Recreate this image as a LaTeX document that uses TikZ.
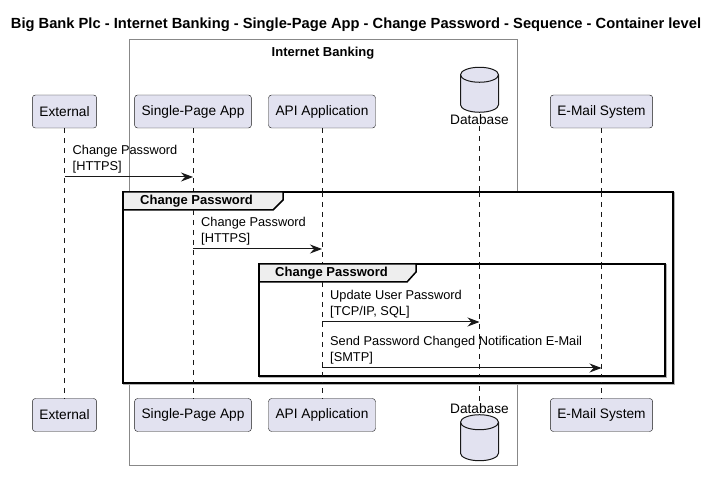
\documentclass[tikz,border=0pt]{standalone}
\usepackage{fontspec}
\setmainfont{Liberation Sans}
\usetikzlibrary{arrows.meta}

\definecolor{partfill}{HTML}{E2E2F0}
\definecolor{partline}{HTML}{181818}
\definecolor{tabfill}{HTML}{EEEEEE}
\definecolor{boundline}{HTML}{888888}

\begin{document}
\begin{tikzpicture}[x=1pt, y=-1pt,
  part/.style={draw=partline, fill=partfill, rounded corners=3pt, minimum height=33pt,
    inner xsep=7pt, font=\fontsize{13.7}{16}\selectfont},
  dbname/.style={inner sep=1pt, font=\fontsize{13.7}{16}\selectfont},
  life/.style={draw=partline, dash pattern=on 5pt off 5pt, line width=0.5pt},
  msg/.style={-{Stealth[length=12pt, width=9pt, inset=4pt]}, line width=1pt, draw=partline},
  msglabel/.style={anchor=south west, align=left, inner sep=0pt, font=\fontsize{12.8}{16}\selectfont},
  grp/.style={line width=1.5pt},
  grpshadow/.style={line width=1.5pt, draw=black!30},
  tab/.style={line width=1.5pt, fill=tabfill},
  tablabel/.style={anchor=west, inner sep=0pt, font=\bfseries\fontsize{13}{15}\selectfont}]

  \useasboundingbox (0,0) rectangle (716,478);

  % title
  \node[font=\bfseries\fontsize{14.7}{17}\selectfont] (title) at (356,25)
    {Big Bank Plc - Internet Banking - Single-Page App - Change Password - Sequence - Container level};

  % system boundary
  \draw[boundline, line width=1pt] (129,40) rectangle (517,466);
  \node[font=\bfseries\fontsize{13}{15}\selectfont] (ib) at (323,53) {Internet Banking};

  % participants, top row
  \node[part] (ext) at (64.5,111.5) {External};
  \node[part] (spa) at (193,111.5) {Single-Page App};
  \node[part] (api) at (322,111.5) {API Application};
  \node[part] (mail) at (601.5,111.5) {E-Mail System};
  \node[dbname] (db) at (479.5,120) {Database};

  % participants, bottom row
  \node[part] (ext2) at (64.5,415) {External};
  \node[part] (spa2) at (193,415) {Single-Page App};
  \node[part] (api2) at (322,415) {API Application};
  \node[part] (mail2) at (601.5,415) {E-Mail System};
  \node[dbname] (db2) at (479.5,409) {Database};

  % lifelines
  \draw[life] (ext) -- (ext2);
  \draw[life] (spa) -- (spa2);
  \draw[life] (api) -- (api2);
  \draw[life] (db) -- (db2);
  \draw[life] (mail) -- (mail2);

  % database cylinders
  \draw[draw=partline, fill=partfill, line width=1pt]
    ([xshift=-19pt, yshift=39pt]db.north) -- ([xshift=-19pt, yshift=9pt]db.north)
    arc[start angle=180, end angle=360, x radius=19pt, y radius=7.5pt]
    -- ([xshift=19pt, yshift=39pt]db.north)
    arc[start angle=0, end angle=180, x radius=19pt, y radius=7.5pt] -- cycle;
  \draw[draw=partline, line width=1pt]
    ([xshift=-19pt, yshift=39pt]db.north)
    arc[start angle=180, end angle=360, x radius=19pt, y radius=7.5pt];
  \draw[draw=partline, fill=partfill, line width=1pt]
    ([xshift=-19pt, yshift=-7pt]db2.south) -- ([xshift=-19pt, yshift=-38pt]db2.south)
    arc[start angle=180, end angle=360, x radius=19pt, y radius=7.5pt]
    -- ([xshift=19pt, yshift=-7pt]db2.south)
    arc[start angle=0, end angle=180, x radius=19pt, y radius=7.5pt] -- cycle;
  \draw[draw=partline, line width=1pt]
    ([xshift=-19pt, yshift=-7pt]db2.south)
    arc[start angle=180, end angle=360, x radius=19pt, y radius=7.5pt];

  % outer group
  \draw[grpshadow] (124.2,193.2) rectangle (674.2,384.2);
  \draw[grp, fill=white] (123,192) rectangle (673,383);
  \draw[tab] (123,192) -- (283,192) -- (283,200) -- (273,210) -- (123,210) -- cycle;
  \node[tablabel] (g1) at (140,201) {Change Password};
  \draw[life] (spa |- 0,210) -- (spa |- 0,383);
  \draw[life] (api |- 0,192) -- (api |- 0,383);
  \draw[life] (db |- 0,192) -- (db |- 0,383);
  \draw[life] (mail |- 0,192) -- (mail |- 0,383);

  % inner group
  \draw[grpshadow] (260.2,265.2) rectangle (666.2,377.2);
  \draw[grp, fill=white] (259,264) rectangle (665,376);
  \draw[tab] (259,264) -- (416,264) -- (416,272) -- (407,282) -- (259,282) -- cycle;
  \node[tablabel] (g2) at (275,273) {Change Password};
  \draw[life] (api |- 0,282) -- (api |- 0,376);
  \draw[life] (db |- 0,264) -- (db |- 0,376);
  \draw[life] (mail |- 0,264) -- (mail |- 0,376);

  % messages
  \draw[msg] (ext |- 0,177) -- (spa |- 0,177);
  \node[msglabel] (m1) at ([xshift=8pt]ext |- 0,173) {Change Password\\{[HTTPS]}};
  \draw[msg] (spa |- 0,249) -- (api |- 0,249);
  \node[msglabel] (m2) at ([xshift=8pt]spa |- 0,245) {Change Password\\{[HTTPS]}};
  \draw[msg] (api |- 0,322) -- (db |- 0,322);
  \node[msglabel] (m3) at ([xshift=8pt]api |- 0,318) {Update User Password\\{[TCP/IP, SQL]}};
  \draw[msg] (api |- 0,368) -- (mail |- 0,368);
  \node[msglabel] (m4) at ([xshift=8pt]api |- 0,364) {Send Password Changed Notification E-Mail\\{[SMTP]}};
\end{tikzpicture}
\end{document}
